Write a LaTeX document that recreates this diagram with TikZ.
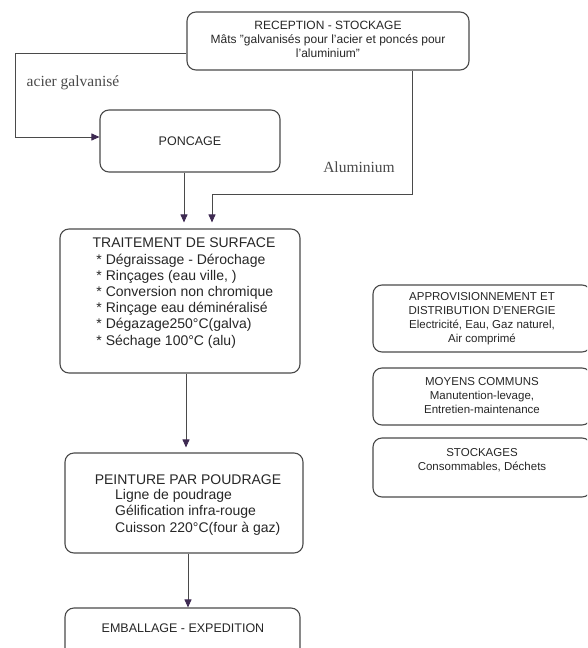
\documentclass[tikz,border=0pt]{standalone}
\usepackage{fontspec}
\setmainfont{Liberation Sans}
\newfontfamily\serifl{Liberation Serif}
\usetikzlibrary{arrows.meta}
\definecolor{lin}{HTML}{4A4A4A}
\definecolor{tip}{HTML}{3E2A52}
\definecolor{txt}{HTML}{262626}
\tikzset{
  box/.style={draw=lin, line width=1.1pt, rounded corners=9pt, minimum width=#1},
  flow/.style={draw=lin, line width=0.9pt, -{Triangle[width=7pt,length=8pt,color=tip]}},
  tx/.style={text=txt, inner sep=0pt, align=center},
  lab/.style={text=lin, inner sep=0pt, font=\serifl\fontsize{15.5}{17}\selectfont}
}
\begin{document}
\begin{tikzpicture}[x=1pt,y=-1pt]
\useasboundingbox (0,0) rectangle (587,648);
\begin{scope}
\clip (0,0) rectangle (587,648);
% boxes
\node[box=282pt, minimum height=58pt] (rec) at (328,41) {};
\node[tx, font=\fontsize{12}{14}\selectfont] (rect) at (328,39) {RECEPTION - STOCKAGE\\Mâts "galvanisés pour l'acier et poncés pour\\l'aluminium"};
\node[box=180pt, minimum height=62pt] (ponc) at (190,141) {};
\node[tx, font=\fontsize{12.5}{14}\selectfont] (ponct) at (190,141) {PONCAGE};
\node[box=240pt, minimum height=144pt] (trt) at (180,301) {};
\node[tx, align=left, font=\fontsize{14}{16.2}\selectfont] (trtt) at (184,293) {TRAITEMENT DE SURFACE\\
\ * Dégraissage - Dérochage\\
\ * Rinçages (eau ville, )\\
\ * Conversion non chromique\\
\ * Rinçage eau déminéralisé\\
\ * Dégazage250°C(galva)\\
\ * Séchage 100°C (alu)};
\node[box=238pt, minimum height=100pt] (peint) at (184,503) {};
\node[tx, font=\fontsize{14}{16.5}\selectfont] (peintt) at (188,480) {PEINTURE PAR POUDRAGE};
\node[tx, align=left, anchor=north west, font=\fontsize{14}{16.5}\selectfont] (peintl) at (115,489) {Ligne de poudrage\\Gélification infra-rouge\\Cuisson 220°C(four à gaz)};
\node[box=235pt, minimum height=80pt] (emb) at (182.5,648) {};
\node[tx, font=\fontsize{12.5}{14}\selectfont] (embt) at (183,628) {EMBALLAGE - EXPEDITION};
\node[box=218pt, minimum height=67pt] (appro) at (482,318.5) {};
\node[tx, font=\fontsize{11.5}{14}\selectfont] (approt) at (482,319) {APPROVISIONNEMENT ET\\DISTRIBUTION D'ENERGIE\\Electricité, Eau, Gaz naturel,\\Air comprimé};
\node[box=218pt, minimum height=57pt] (moy) at (482,396.5) {};
\node[tx, font=\fontsize{11.5}{14}\selectfont] (moyt) at (482,396) {MOYENS COMMUNS\\Manutention-levage,\\Entretien-maintenance};
\node[box=218pt, minimum height=59pt] (stk) at (482,467.5) {};
\node[tx, font=\fontsize{11.5}{14}\selectfont] (stkt) at (482,460) {STOCKAGES\\Consommables, Déchets};
% labels
\node[lab] (lacier) at (73,83) {acier galvanisé};
\node[lab] (lalu) at (359,167) {Aluminium};
% connectors
\coordinate (lc) at (15,53);
\coordinate (ac) at (212,194);
\draw[flow] ([yshift=-12pt]rec.west) -- (lc) |- ([yshift=4pt]ponc.west);
\draw[flow, shorten >=6pt] ([xshift=-6pt]ponc.south) -- ([xshift=-6pt]ponc.south |- trt.north);
\draw[flow, shorten >=6pt] ([xshift=84pt]rec.south) |- (ac) -- (ac |- trt.north);
\draw[flow, shorten >=5pt] ([xshift=6pt]trt.south) -- ([xshift=6pt]trt.south |- peint.north);
\draw[flow] ([xshift=4pt]peint.south) -- ([xshift=4pt]peint.south |- emb.north);
\end{scope}
\end{tikzpicture}
\end{document}
